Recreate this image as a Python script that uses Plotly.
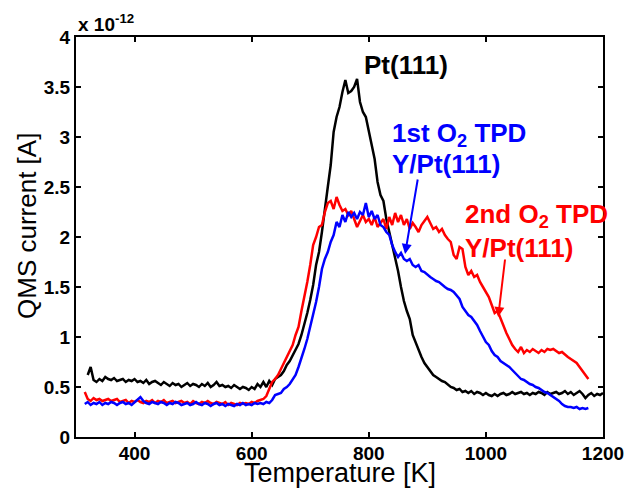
import plotly.graph_objects as go

# ---------------- data ----------------
T_pt = list(range(320, 1201, 5))
I_pt = [0.62, 0.70, 0.57, 0.55, 0.58, 0.56, 0.60, 0.58, 0.57, 0.59, 0.56, 0.57, 0.58, 0.55, 0.57, 0.56,
        0.58, 0.55, 0.56, 0.54, 0.57, 0.53, 0.55, 0.56, 0.54, 0.52, 0.55, 0.53, 0.51, 0.54, 0.52, 0.53,
        0.50, 0.52, 0.54, 0.51, 0.53, 0.52, 0.50, 0.53, 0.51, 0.54, 0.50, 0.52, 0.55, 0.51, 0.52, 0.50,
        0.51, 0.49, 0.52, 0.50, 0.48, 0.50, 0.49, 0.47, 0.50, 0.48, 0.53, 0.50, 0.55, 0.50, 0.56, 0.52,
        0.58, 0.60, 0.62, 0.66, 0.72, 0.76, 0.82, 0.88, 0.93, 1.02, 1.12, 1.24, 1.37, 1.52, 1.72, 1.85,
        2.05, 2.25, 2.50, 2.72, 3.05, 3.20, 3.30, 3.45, 3.57, 3.44, 3.46, 3.50, 3.58, 3.35, 3.25, 3.20,
        3.05, 2.92, 2.78, 2.55, 2.42, 2.36, 2.18, 2.05, 1.92, 1.80, 1.66, 1.50, 1.36, 1.26, 1.18, 1.02,
        0.94, 0.86, 0.80, 0.74, 0.70, 0.67, 0.62, 0.60, 0.58, 0.56, 0.55, 0.52, 0.50, 0.49, 0.47, 0.48,
        0.45, 0.46, 0.44, 0.46, 0.43, 0.45, 0.44, 0.42, 0.44, 0.42, 0.41, 0.43, 0.41, 0.43, 0.44, 0.42,
        0.43, 0.45, 0.43, 0.44, 0.45, 0.43, 0.44, 0.42, 0.44, 0.43, 0.45, 0.44, 0.42, 0.45, 0.43, 0.44,
        0.45, 0.43, 0.44, 0.46, 0.43, 0.45, 0.42, 0.44, 0.46, 0.43, 0.39, 0.42, 0.44, 0.41, 0.43, 0.42,
        0.44]

T_1st = list(range(315, 1176, 5))
I_1st = [0.33, 0.35, 0.32, 0.34, 0.33, 0.35, 0.32, 0.34, 0.33, 0.35, 0.34, 0.32, 0.34, 0.35, 0.33, 0.34,
         0.32, 0.35, 0.38, 0.40, 0.36, 0.34, 0.33, 0.35, 0.34, 0.33, 0.35, 0.34, 0.32, 0.34, 0.33, 0.35,
         0.34, 0.32, 0.33, 0.34, 0.32, 0.33, 0.35, 0.33, 0.32, 0.34, 0.33, 0.31, 0.33, 0.34, 0.32, 0.33,
         0.31, 0.33, 0.32, 0.31, 0.33, 0.32, 0.34, 0.32, 0.33, 0.32, 0.34, 0.33, 0.34, 0.33, 0.35, 0.34,
         0.37, 0.42, 0.43, 0.44, 0.48, 0.50, 0.53, 0.58, 0.62, 0.70, 0.78, 0.88, 0.98, 1.10, 1.22, 1.35,
         1.50, 1.68, 1.78, 1.85, 1.95, 2.02, 2.15, 2.10, 2.22, 2.15, 2.25, 2.20, 2.24, 2.18, 2.25, 2.22,
         2.34, 2.20, 2.26, 2.18, 2.22, 2.12, 2.10, 2.05, 2.02, 1.92, 1.85, 1.80, 1.84, 1.78, 1.76, 1.78,
         1.72, 1.70, 1.72, 1.66, 1.65, 1.62, 1.60, 1.58, 1.56, 1.55, 1.52, 1.50, 1.48, 1.47, 1.45, 1.42,
         1.38, 1.30, 1.26, 1.22, 1.20, 1.16, 1.12, 1.06, 1.00, 0.95, 0.92, 0.86, 0.82, 0.80, 0.76, 0.74,
         0.72, 0.70, 0.67, 0.64, 0.62, 0.58, 0.57, 0.55, 0.53, 0.52, 0.50, 0.49, 0.47, 0.45, 0.44, 0.42,
         0.40, 0.38, 0.36, 0.33, 0.31, 0.30, 0.30, 0.29, 0.30, 0.28, 0.29, 0.28, 0.29]

T_2nd = list(range(315, 1176, 5))
I_2nd = [0.45, 0.38, 0.36, 0.39, 0.37, 0.38, 0.36, 0.37, 0.38, 0.36, 0.37, 0.38, 0.35, 0.36, 0.37, 0.34,
         0.36, 0.35, 0.37, 0.35, 0.34, 0.36, 0.35, 0.37, 0.34, 0.36, 0.35, 0.37, 0.34, 0.35, 0.36, 0.34,
         0.35, 0.36, 0.34, 0.35, 0.33, 0.36, 0.34, 0.33, 0.35, 0.34, 0.36, 0.34, 0.33, 0.35, 0.34, 0.33,
         0.35, 0.32, 0.34, 0.33, 0.32, 0.34, 0.33, 0.34, 0.33, 0.35, 0.34, 0.36, 0.37, 0.38, 0.41, 0.48,
         0.55, 0.58, 0.62, 0.68, 0.74, 0.80, 0.86, 0.92, 1.02, 1.10, 1.26, 1.40, 1.55, 1.72, 1.92, 2.00,
         2.10, 2.12, 2.25, 2.34, 2.36, 2.28, 2.40, 2.32, 2.26, 2.28, 2.22, 2.26, 2.18, 2.10, 2.16, 2.22,
         2.15, 2.18, 2.12, 2.20, 2.10, 2.14, 2.18, 2.08, 2.20, 2.12, 2.24, 2.15, 2.22, 2.12, 2.18, 2.08,
         2.14, 2.10, 2.05, 2.12, 2.16, 2.20, 2.14, 2.08, 2.10, 2.05, 2.08, 2.02, 1.98, 1.95, 1.82, 1.78,
         1.90, 1.88, 1.70, 1.62, 1.66, 1.60, 1.62, 1.55, 1.50, 1.45, 1.40, 1.32, 1.24, 1.26, 1.18, 1.10,
         1.04, 0.98, 0.92, 0.88, 0.85, 0.90, 0.84, 0.87, 0.85, 0.88, 0.86, 0.84, 0.87, 0.85, 0.88, 0.87,
         0.88, 0.86, 0.84, 0.85, 0.82, 0.80, 0.78, 0.76, 0.74, 0.70, 0.66, 0.62, 0.58]

x_ticks = [400, 600, 800, 1000, 1200]
y_ticks = [0, 0.5, 1, 1.5, 2, 2.5, 3, 3.5, 4]
y_tick_labels = ["0", "0.5", "1", "1.5", "2", "2.5", "3", "3.5", "4"]

# ---------------- figure ----------------
FONT = "Arial, Liberation Sans, sans-serif"
fig = go.Figure()
fig.add_trace(go.Scatter(x=T_pt, y=I_pt, mode="lines", line=dict(color="#000000", width=2.5), name="Pt(111)"))
fig.add_trace(go.Scatter(x=T_2nd, y=I_2nd, mode="lines", line=dict(color="#ff0000", width=2.5), name="2nd"))
fig.add_trace(go.Scatter(x=T_1st, y=I_1st, mode="lines", line=dict(color="#0000ff", width=2.5), name="1st"))

axis_common = dict(showgrid=False, zeroline=False, showline=True, linecolor="black", linewidth=2,
                   mirror="ticks", ticks="inside", ticklen=5, tickwidth=2, tickcolor="black",
                   automargin=False,
                   tickfont=dict(family=FONT, size=19, color="black", weight="bold"))

fig.update_xaxes(range=[300, 1200], tickvals=x_ticks, ticklabelstandoff=-2, **axis_common)
fig.update_yaxes(range=[0, 4], tickvals=y_ticks, ticktext=y_tick_labels, **axis_common)

ann_font = lambda c: dict(family=FONT, size=26, color=c)
annotations = [
    dict(x=0.5, y=-0.09, xref="paper", yref="paper", text="Temperature [K]", showarrow=False,
         xanchor="center", yanchor="middle", font=dict(family=FONT, size=27, color="black")),
    dict(x=-0.093, y=0.5275, xref="paper", yref="paper", text="QMS current [A]", showarrow=False,
         textangle=-90, xanchor="center", yanchor="middle", font=dict(family=FONT, size=26, color="black")),
    dict(x=788, y=3.72, xref="x", yref="y", text="<b>Pt(111)</b>", showarrow=False,
         xanchor="left", yanchor="middle", font=ann_font("black")),
    dict(x=836, y=3.03, xref="x", yref="y", text="<b>1st O<sub>2</sub> TPD</b>", showarrow=False,
         xanchor="left", yanchor="middle", font=ann_font("#0000ff")),
    dict(x=836, y=2.73, xref="x", yref="y", text="<b>Y/Pt(111)</b>", showarrow=False,
         xanchor="left", yanchor="middle", font=ann_font("#0000ff")),
    dict(x=961, y=2.22, xref="x", yref="y", text="<b>2nd O<sub>2</sub> TPD</b>", showarrow=False,
         xanchor="left", yanchor="middle", font=ann_font("#ff0000")),
    dict(x=961, y=1.89, xref="x", yref="y", text="<b>Y/Pt(111)</b>", showarrow=False,
         xanchor="left", yanchor="middle", font=ann_font("#ff0000")),
    dict(x=862, y=1.83, ax=884, ay=2.59, xref="x", yref="y", axref="x", ayref="y", text="",
         showarrow=True, arrowhead=2, arrowsize=1, arrowwidth=2, arrowcolor="#0000ff"),
    dict(x=1021, y=1.20, ax=1033, ay=1.79, xref="x", yref="y", axref="x", ayref="y", text="",
         showarrow=True, arrowhead=2, arrowsize=1, arrowwidth=2, arrowcolor="#ff0000"),
    dict(x=0, y=1, xref="paper", yref="paper", text="<b>x 10<sup>-12</sup></b>", showarrow=False,
         xanchor="left", yanchor="bottom", yshift=0, font=dict(family=FONT, size=19, color="black")),
]

fig.update_layout(width=625, height=490, margin=dict(l=76, r=22, t=37, b=53),
                  plot_bgcolor="white", paper_bgcolor="white", showlegend=False,
                  annotations=annotations)

fig.write_html("out.html", config={"displayModeBar": False},
               post_script="document.body.style.margin='0';document.body.style.padding='0';")
